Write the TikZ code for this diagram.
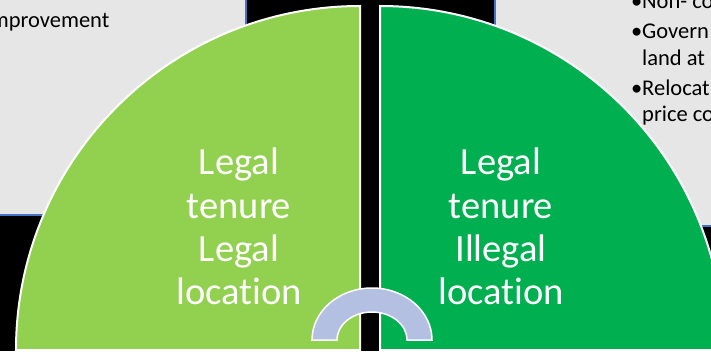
\documentclass[tikz,border=0pt]{standalone}
\usepackage{fontspec}
\setmainfont[Ligatures=NoCommon]{Carlito}
\definecolor{lgreen}{HTML}{92D050}
\definecolor{dgreen}{HTML}{00B050}
\definecolor{boxgrey}{HTML}{E7E6E6}
\definecolor{edgeblue}{HTML}{4472C4}
\definecolor{arcblue}{HTML}{B4C0E2}
\tikzset{
  greybox/.style={fill=boxgrey},
  blueedge/.style={draw=edgeblue, line width=1.5pt},
  quarter/.style={draw=white, line width=2pt},
  bigtext/.style={text=white, align=center, inner sep=0pt, font=\fontsize{38.5}{43.3}\selectfont},
  smalltext/.style={text=black, anchor=base west, inner sep=0pt, font=\fontsize{22.5}{27}\selectfont}
}
\begin{document}
\begin{tikzpicture}[x=1pt,y=-1pt]
\useasboundingbox (0,0) rectangle (711,351);
\clip (0,0) rectangle (711,351);
\fill[black] (0,0) rectangle (711,351);
% grey text boxes
\fill[greybox] (-5,-5) rectangle (246,215);
\draw[blueedge] (246,-5) -- (246,215) -- (-5,215);
\fill[greybox] (495,-5) rectangle (716,226);
\draw[blueedge] (495,-5) -- (495,226) -- (716,226);
\node[smalltext] (imp) at (-14.5,27) {improvement};
\node[smalltext] (b1) at (631,8) {•};
\node[smalltext] (t1) at (642,8) {Non- co};
\node[smalltext] (b2) at (631,38) {•};
\node[smalltext] (t2) at (642,38) {Govern};
\node[smalltext] (t3) at (642,65) {land at};
\node[smalltext] (b3) at (631,95) {•};
\node[smalltext] (t4) at (642,95) {Relocat};
\node[smalltext] (t5) at (642,121) {price co};
% quarter discs
\filldraw[quarter, fill=lgreen] (360,350) -- (16,350) arc[start angle=180, end angle=270, radius=344] -- cycle;
\filldraw[quarter, fill=dgreen] (380,350) -- (380,6) arc[start angle=270, end angle=360, radius=344] -- cycle;
\node[bigtext] (left) at (239,226.5) {Legal\\tenure\\Legal\\location};
\node[bigtext] (right) at (501,226.5) {Legal\\tenure\\Illegal\\location};
% block arc
\filldraw[draw=white, line width=1.5pt, fill=arcblue]
  (312,340) arc[start angle=180, end angle=360, x radius=60, y radius=52]
  -- (407,340) arc[start angle=360, end angle=180, x radius=35, y radius=28] -- cycle;
\end{tikzpicture}
\end{document}
